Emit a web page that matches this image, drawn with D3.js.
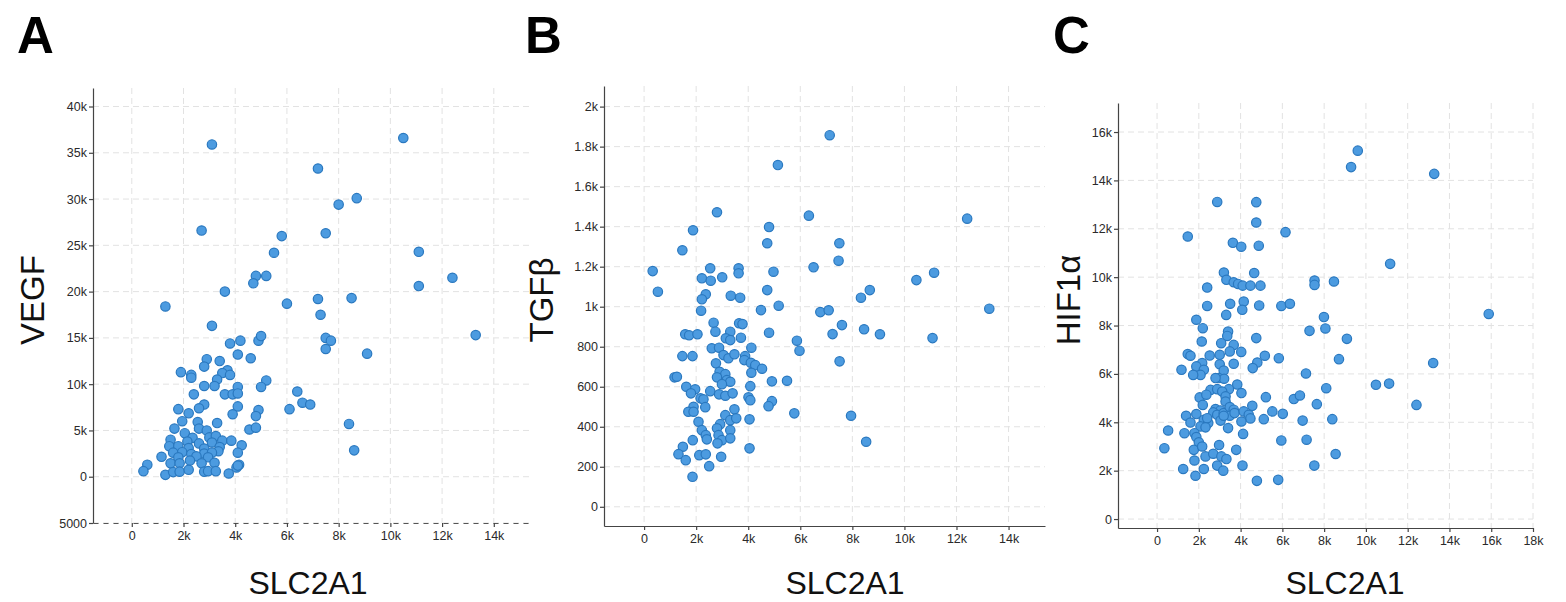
<!DOCTYPE html>
<html>
<head>
<meta charset="utf-8">
<script src="https://cdn.jsdelivr.net/npm/d3@7"></script>
<style>
  body { margin: 0; background: #fff; }
  svg { display: block; font-family: "Liberation Sans", Arial, sans-serif; }
  .grid line { stroke: #e2e2e2; stroke-dasharray: 6,4; }
  .axis path, .axis line { stroke: #444; stroke-width: 1.2; }
  .axis text { font-size: 12.5px; fill: #2a2a2a; }
  .dot { fill: #4c9be0; stroke: #2a78bf; stroke-width: 1.2; }
</style>
</head>
<body>
<script>
// SLC2A1 vs VEGF (panel A)
const vegfPoints = [
  [3100,35900],[10500,36600],[7200,33300],[8700,30100],[8000,29400],[2700,26600],[5800,26000],[7500,26300],
  [5500,24200],[11100,24300],[4800,21700],[5200,21700],[4700,20900],[12400,21500],[11100,20600],[3600,20000],
  [6000,18700],[7200,19200],[8500,19300],[7300,17500],[1300,18400],[3100,16300],[13300,15300],[7500,15000],
  [7700,14700],[7500,13800],[9100,13300],
  [3800,14400],[4200,14700],[4900,14700],[5000,15200],[4100,13200],[4600,12800],[2900,12700],[3400,12500],
  [2800,11900],[1900,11300],[2300,11000],[2300,10700],[3700,11500],[3500,11200],[3800,11000],[3300,10500],
  [5200,10400],[2800,9800],[3200,9800],[4100,9700],[5000,9700],[2400,8900],[3600,8900],[3900,8900],[4100,9000],
  [6400,9200],[6600,8000],[6900,7800],[6100,7300],[2800,7800],[2600,7400],[4100,7600],[4900,7200],[1800,7300],
  [2200,6850],[3900,6750],[4800,6550],[3300,5800],[1950,6000],[2550,5900],[1650,5200],[2600,5200],[4550,5100],
  [4800,5300],[8400,5700],[8600,2850],
  [2900,5000],[2050,4700],[3000,4250],[3250,4400],[2350,4200],[1500,4000],[2150,3800],[2600,3600],[3100,3700],
  [3500,3900],[3850,3900],[4250,3400],[1450,3300],[1800,3300],[2200,3100],[2800,3050],[3400,3200],[3350,2750],
  [1600,2600],[1950,2650],[2300,2450],[2800,2500],[3100,2600],[4100,2600],[1150,2150],[1800,2100],[2500,2200],
  [2950,2100],[2250,1750],[1500,1450],[1850,1450],[2700,1450],[3200,1500],[4150,1300],[600,1300],[450,600],
  [1300,200],[1600,500],[1850,550],[2200,750],[2800,550],[2950,600],[3250,600],[3750,350],[4050,1000],[4100,1200]
];

// SLC2A1 vs TGFβ (panel B)
const tgfbPoints = [
  [7130,1857],[5140,1708],[2800,1472],[6330,1455],[12410,1440],[1880,1382],[4800,1398],[4730,1317],[7500,1317],
  [1470,1282],[7470,1230],[6510,1197],[330,1178],[2540,1192],[3630,1192],[3630,1167],[4970,1175],[2220,1142],
  [2560,1130],[3000,1147],[10460,1133],[11140,1170],[530,1075],[4730,1083],[8670,1083],[2370,1062],[3330,1055],
  [3690,1045],[8330,1045],[2220,1037],
  [5170,1005],[13260,990],[2190,980],[4490,983],[6770,973],[7090,982],[2670,920],[3650,917],[3780,913],[7600,908],
  [1580,862],[1730,857],[2050,862],[2740,875],[3310,875],[4800,870],[7240,863],[8450,887],[9060,862],[11080,843],
  [3140,842],[3310,833],[3720,845],[5870,830],[5970,780],[2600,792],[2880,795],[4120,795],[1470,753],[1860,753],
  [3050,758],[3240,742],[3470,762],[3880,753],[3850,733],[7510,727],[2760,717],[4100,720],[4270,708],[4530,690],
  [4120,670],[2900,675],[3120,663],[1170,647],[1260,650],[2800,647],[3180,633],[3310,625],[4910,627],[5490,630],
  [1620,600],[1960,587],[1800,567],[2540,578],[2990,613],[4080,603],[2880,562],[3120,555],[3400,567],[2170,542],
  [2280,537],[4010,547],[4080,533],[4910,528],[4780,503],[1900,500],[2350,498],[1700,475],[1900,475],[3470,487],
  [3120,458],[3310,433],[3540,442],[5770,467],[7950,455],[2090,425],[2920,413],[2800,392],[2220,383],[3310,383],
  [4050,437],[2370,358],[2410,337],[2860,358],[2990,333],[3310,342],[1870,333],[2820,317],[8530,325],[4050,292],
  [1490,300],[1320,263],[1600,233],[2120,258],[2370,262],[2960,250],[2500,203],[1860,150]
];

// SLC2A1 vs HIF1α (panel C)
const hifPoints = [
  [9610,15230],[9290,14550],[13270,14270],[2880,13110],[4750,13100],[4750,12260],[6150,11860],[1470,11680],
  [3630,11420],[4030,11260],[4870,11300],[11160,10550],[3200,10190],[4650,10170],[3320,9890],[3670,9790],
  [3880,9720],[4100,9650],[4470,9650],[4950,9650],[2400,9570],[7540,9860],[7540,9680],[8470,9820],
  [2400,8810],[3500,8900],[4150,8990],[4890,8830],[5950,8810],[6360,8900],[15880,8480],[3310,8440],[4080,8650],
  [7990,8350],[1880,8240],[2190,7890],[7300,7780],[8060,7880],[3400,7750],[3360,7570],[4750,7480],[9090,7450],
  [2140,7340],[3070,7270],[3670,7200],[3480,6930],[4030,6910],[1470,6820],[1600,6750],[2520,6760],[3000,6790],
  [5160,6750],[5830,6650],[8710,6610],[13220,6450],[3670,6420],[4800,6470],[4580,6240],[1170,6170],[2160,6450],
  [1880,6310],[2240,6170],[2080,5960],[1730,5960],[3000,6400],[3190,6140],[2950,5830],[3210,5800],[2800,5830],
  [7130,6020],[10480,5550],[11110,5600],[3840,5560],[3440,5370],[8100,5410],[4040,5210],[2560,5340],[2880,5370],
  [3120,5270],[2040,5030],[2360,5140],[5210,5040],[6550,4960],[6840,5110],[3280,5070],[3280,4860],[2190,4720],
  [7650,4750],[12420,4720],[4560,4680],[2800,4550],[3040,4490],[2690,4410],[2880,4310],[3190,4380],[3480,4630],
  [3670,4520],[3480,4270],[3710,4380],[4150,4450],[4390,4310],[4470,4160],[5110,4130],[5520,4450],[6020,4350],
  [6970,4070],[8390,4130],[1390,4270],[1600,3990],[1880,4340],[2240,4100],[2450,3970],[2400,4170],[2080,3830],
  [2320,3790],[3040,4070],[3190,4270],[4040,4030],[3400,3760],[530,3660],[1310,3550],[1790,3550],[1880,3390],
  [2000,3170],[4120,3520],[5950,3250],[7160,3280],[350,2930],[1760,2860],[2160,3000],[2970,3060],[3790,2860],
  [2320,2590],[2690,2700],[3080,2590],[3320,2480],[8550,2690],[1790,2420],[2880,2210],[3170,2000],[4090,2210],
  [7530,2210],[1250,2070],[2240,2070],[1840,1790],[4780,1580],[5800,1620]
];

// tick values and labels
const xTicksAB = [0, 2000, 4000, 6000, 8000, 10000, 12000, 14000];
const xLabelsAB = ["0", "2k", "4k", "6k", "8k", "10k", "12k", "14k"];
const xTicksC = [0, 2000, 4000, 6000, 8000, 10000, 12000, 14000, 16000, 18000];
const xLabelsC = ["0", "2k", "4k", "6k", "8k", "10k", "12k", "14k", "16k", "18k"];
const yTicksA = [-5000, 0, 5000, 10000, 15000, 20000, 25000, 30000, 35000, 40000];
const yLabelsA = ["5000", "0", "5k", "10k", "15k", "20k", "25k", "30k", "35k", "40k"];
const yTicksB = [0, 200, 400, 600, 800, 1000, 1200, 1400, 1600, 1800, 2000];
const yLabelsB = ["0", "200", "400", "600", "800", "1k", "1.2k", "1.4k", "1.6k", "1.8k", "2k"];
const yTicksC = [0, 2000, 4000, 6000, 8000, 10000, 12000, 14000, 16000];
const yLabelsC = ["0", "2k", "4k", "6k", "8k", "10k", "12k", "14k", "16k"];

const svg = d3.select("body").append("svg")
  .attr("width", 1566)
  .attr("height", 602);

function drawPanel(p) {
  var x = d3.scaleLinear().domain(p.xDomain).range([p.left, p.right]);
  var y = d3.scaleLinear().domain(p.yDomain).range([p.bottom, p.top]);
  var g = svg.append("g");

  // dashed grid
  var grid = g.append("g").attr("class", "grid");
  grid.selectAll(".gx").data(p.xTicks).enter().append("line")
    .attr("x1", function (d) { return x(d); }).attr("x2", function (d) { return x(d); })
    .attr("y1", p.top).attr("y2", p.bottom);
  grid.selectAll(".gy").data(p.yTicks).enter().append("line")
    .attr("x1", p.left).attr("x2", p.right)
    .attr("y1", function (d) { return y(d); }).attr("y2", function (d) { return y(d); });

  var xAxis = g.append("g")
    .attr("class", "axis")
    .attr("transform", "translate(0," + p.bottom + ")")
    .call(d3.axisBottom(x).tickValues(p.xTicks).tickSize(4).tickSizeOuter(0).tickPadding(4)
      .tickFormat(function (d, i) { return p.xLabels[i]; }));
  if (p.dashedX) xAxis.select(".domain").style("stroke-dasharray", "5,5").style("stroke", "#555");

  g.append("g")
    .attr("class", "axis")
    .attr("transform", "translate(" + p.left + ",0)")
    .call(d3.axisLeft(y).tickValues(p.yTicks).tickSize(4).tickSizeOuter(0).tickPadding(2)
      .tickFormat(function (d, i) { return p.yLabels[i]; }));

  g.append("g").selectAll("circle")
    .data(p.data)
    .enter().append("circle")
    .attr("class", "dot")
    .attr("r", 4.7)
    .attr("cx", function (d) { return x(d[0]); })
    .attr("cy", function (d) { return y(d[1]); });

  g.append("text")
    .attr("x", p.xTitleX).attr("y", 594)
    .attr("text-anchor", "middle")
    .style("font-size", "32px").style("fill", "#111")
    .text("SLC2A1");

  g.append("text")
    .attr("transform", "translate(" + p.yTitleX + ",300) rotate(-90)")
    .attr("text-anchor", "middle")
    .style("font-size", "33px").style("fill", "#111")
    .text(p.yTitle);

  g.append("text")
    .attr("x", p.letterX).attr("y", 53)
    .style("font-size", "51px").style("font-weight", "bold").style("fill", "#000")
    .text(p.letter);
}

drawPanel({
  letter: "A", letterX: 17, yTitle: "VEGF", yTitleX: 44, xTitleX: 308,
  left: 93, right: 530, top: 88, bottom: 523,
  xDomain: [-1500, 15400], yDomain: [-5000, 42000],
  xTicks: xTicksAB, xLabels: xLabelsAB, yTicks: yTicksA, yLabels: yLabelsA,
  data: vegfPoints, dashedX: true
});

drawPanel({
  letter: "B", letterX: 525, yTitle: "TGFβ", yTitleX: 553, xTitleX: 845,
  left: 604, right: 1045, top: 86, bottom: 526,
  xDomain: [-1540, 15400], yDomain: [-96, 2103],
  xTicks: xTicksAB, xLabels: xLabelsAB, yTicks: yTicksB, yLabels: yLabelsB,
  data: tgfbPoints
});

drawPanel({
  letter: "C", letterX: 1053, yTitle: "HIF1α", yTitleX: 1080, xTitleX: 1345,
  left: 1118, right: 1533, top: 103, bottom: 528,
  xDomain: [-1870, 18000], yDomain: [-370, 17200],
  xTicks: xTicksC, xLabels: xLabelsC, yTicks: yTicksC, yLabels: yLabelsC,
  data: hifPoints
});
</script>
</body>
</html>
